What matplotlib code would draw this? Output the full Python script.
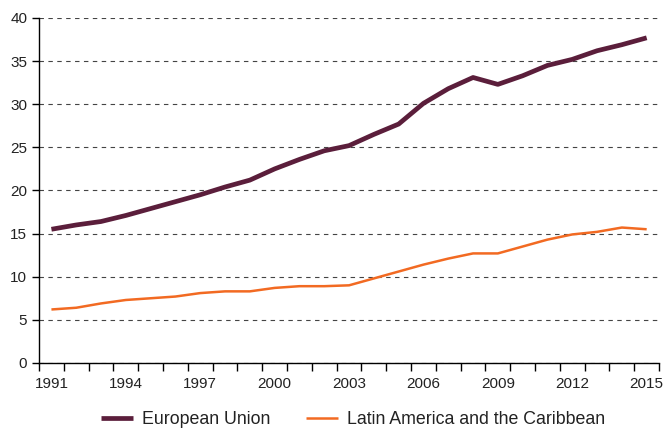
import numpy as np
import matplotlib.pyplot as plt

plt.rcParams['font.family'] = ['Liberation Sans', 'DejaVu Sans']

years = list(range(1991, 2016))
eu = [15.5, 16.0, 16.4, 17.1, 17.9, 18.7, 19.5, 20.4, 21.2, 22.5, 23.6, 24.6, 25.2,
      26.5, 27.7, 30.1, 31.8, 33.1, 32.3, 33.3, 34.5, 35.2, 36.2, 36.9, 37.7]
lac = [6.2, 6.4, 6.9, 7.3, 7.5, 7.7, 8.1, 8.3, 8.3, 8.7, 8.9, 8.9, 9.0,
       9.8, 10.6, 11.4, 12.1, 12.7, 12.7, 13.5, 14.3, 14.9, 15.2, 15.7, 15.5]
label_years = years[::3]

fig = plt.figure(figsize=(6.66, 4.28), dpi=100)
ax = fig.add_axes([0.0586, 0.152, 0.931, 0.806])

x = np.arange(len(years))
ax.plot(x, eu, color='#5b1e3b', lw=3.4, solid_capstyle='butt', label='European Union')
ax.plot(x, lac, color='#f26a22', lw=1.8, solid_capstyle='butt',
        label='Latin America and the Caribbean')

ax.set_xlim(-0.5, len(years) - 0.5)
ax.set_ylim(0, 40)
ax.set_yticks(range(0, 41, 5))
ax.yaxis.grid(True, linestyle=(0, (4, 4)), color='#444444', lw=0.8)
ax.set_axisbelow(True)

# tick marks sit between years, labels under every third year
ax.set_xticks(np.arange(-0.5, len(years)))
ax.set_xticklabels([])
ax.set_xticks([years.index(y) for y in label_years], minor=True)
ax.set_xticklabels([str(y) for y in label_years], minor=True)
ax.tick_params(axis='x', which='major', length=6, width=1, color='black')
ax.tick_params(axis='x', which='minor', length=0, pad=10, labelsize=11, labelcolor='#222222')
ax.tick_params(axis='y', length=5, width=1, labelsize=11, labelcolor='#222222')

for s in ['top', 'right']:
    ax.spines[s].set_visible(False)
for s in ['left', 'bottom']:
    ax.spines[s].set_color('black')
    ax.spines[s].set_linewidth(1)

leg = fig.legend(loc='lower center', bbox_to_anchor=(0.53, -0.037), ncol=2, frameon=False,
                 fontsize=12.8, handlelength=1.8, handletextpad=0.5, columnspacing=2.0)
for t in leg.get_texts():
    t.set_color('#222222')

fig.savefig('out.png', dpi=100)
